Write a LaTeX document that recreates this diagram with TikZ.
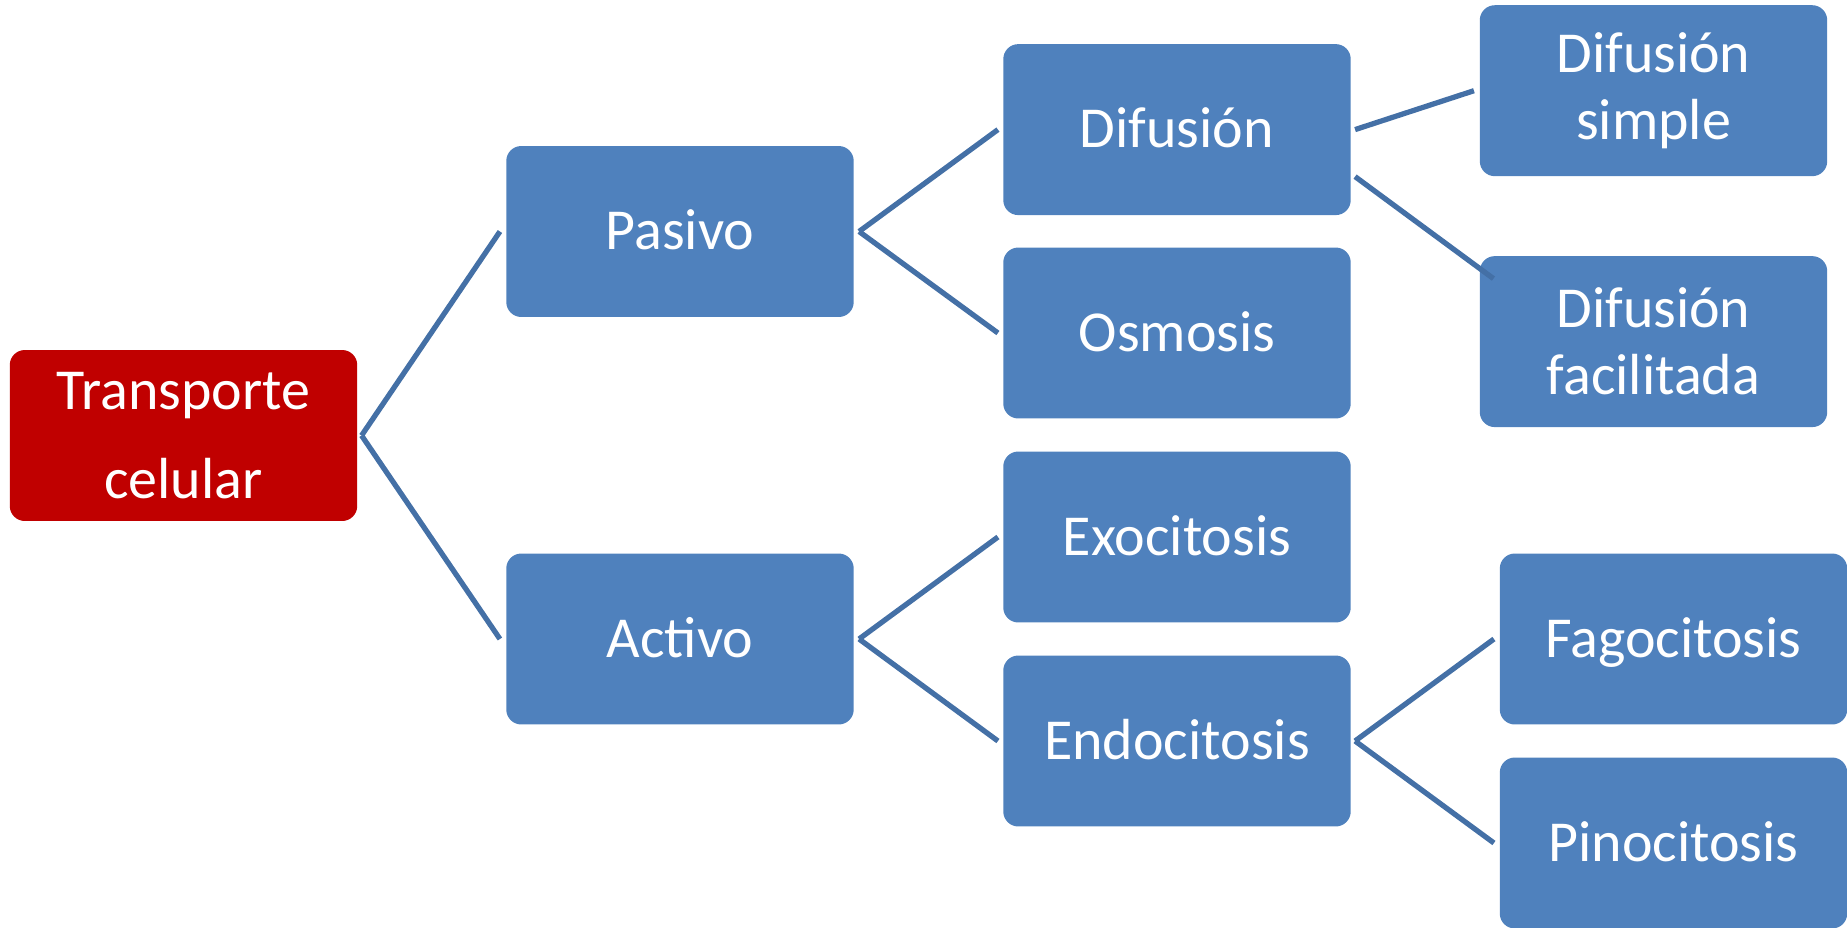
\documentclass[tikz,border=0pt]{standalone}
\usepackage{fontspec}
\setmainfont{Carlito}
\usetikzlibrary{calc}
\definecolor{boxblue}{HTML}{4F81BD}
\definecolor{rootred}{HTML}{C00000}
\definecolor{linkblue}{HTML}{4470A6}
\begin{document}
\begin{tikzpicture}[x=0.02cm,y=-0.02cm,
  box/.style={rectangle, rounded corners=0.3cm, fill=boxblue, text=white,
    minimum width=6.95cm, minimum height=3.42cm, inner sep=0pt,
    font=\fontsize{33}{39}\selectfont, align=center},
  oneline/.style={text height=20.8pt, text depth=0pt},
  link/.style={draw=linkblue, line width=3pt}]
\useasboundingbox (0,0) rectangle (1847,927);

\node[box, fill=rootred, font=\fontsize{33}{50.5}\selectfont] (T) at (183.5,435.5) {Transporte\\celular};
\node[box, oneline] (P) at (680,231.5) {Pasivo};
\node[box, oneline] (A) at (680,639) {Activo};
\node[box, oneline] (D) at (1177,129.6) {Difusión};
\node[box, oneline] (O) at (1177,333) {Osmosis};
\node[box, oneline] (X) at (1177,537) {Exocitosis};
\node[box, oneline] (E) at (1177,741) {Endocitosis};
\node[box, font=\fontsize{33}{38}\selectfont] (DS) at (1653.5,90.7) {Difusión\\simple};
\node[box, font=\fontsize{33}{38}\selectfont] (DF) at (1653.5,341.6) {Difusión\\facilitada};
\node[box, oneline] (F) at (1673.5,639) {Fagocitosis};
\node[box, oneline] (PI) at (1673.5,843) {Pinocitosis};

\draw[link] ($(T.east)+(4,0)$) -- ($(P.west)+(-6,0)$);
\draw[link] ($(T.east)+(4,0)$) -- ($(A.west)+(-6,0)$);
\draw[link] ($(P.east)+(5,0)$) -- ($(D.west)+(-5,0)$);
\draw[link] ($(P.east)+(5,0)$) -- ($(O.west)+(-5,0)$);
\draw[link] ($(A.east)+(5,0)$) -- ($(X.west)+(-5,0)$);
\draw[link] ($(A.east)+(5,0)$) -- ($(E.west)+(-5,0)$);
\draw[link] ($(D.east)+(4,0)$) -- ($(DS.west)+(-5.5,0)$);
\draw[link] ($(D.east)+(4,47)$) -- ($(DF.west)+(14,-63)$);
\draw[link] ($(E.east)+(4,0)$) -- ($(F.west)+(-5.5,0)$);
\draw[link] ($(E.east)+(4,0)$) -- ($(PI.west)+(-5.5,0)$);
\end{tikzpicture}
\end{document}
